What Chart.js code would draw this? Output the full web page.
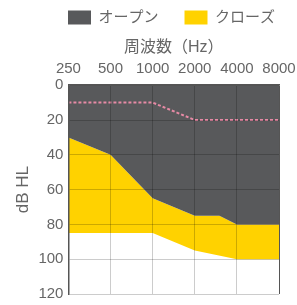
<!DOCTYPE html>
<html>
<head>
  <script src="https://cdn.jsdelivr.net/npm/chart.js"></script>
  <style>
    body { margin: 0; background: #fff; }
  </style>
</head>
<body>
  <canvas id="audioChart" width="297" height="305"></canvas>
  <script>
    const freqs = [250, 500, 1000, 2000, 4000, 8000];
    const openX = [250, 500, 1000, 2000, 3000, 4000, 8000];
    const openLimit = [30, 40, 65, 75, 75, 80, 80];
    const closeX = [250, 500, 1000, 2000, 4000, 8000];
    const closeLimit = [85, 85, 85, 95, 100, 100];
    const refX = [250, 500, 1000, 2000, 4000, 8000];
    const refLine = [10, 10, 10, 20, 20, 20];

    const pts = (xs, ys) => xs.map((x, i) => ({ x: x, y: ys[i] }));
    const family = "'Liberation Sans', 'Noto Sans CJK JP', sans-serif";
    const font = { family: family, size: 15 };
    const gridColor = last => ctx => ctx.index === last ? '#555' : 'rgba(0,0,0,0.2)';

    // nudge the legend so it sits over the plot like the original
    const legendShift = {
      id: 'legendShift',
      afterLayout(chart) {
        chart.legend.left += 22;
        chart.legend.right += 22;
      }
    };

    new Chart(document.getElementById('audioChart'), {
      type: 'line',
      data: {
        datasets: [
          {
            label: 'オープン',
            data: pts(openX, openLimit),
            borderWidth: 0,
            pointRadius: 0,
            backgroundColor: '#58595b',
            borderColor: '#58595b',
            fill: { value: 0 }
          },
          {
            label: 'クローズ',
            data: pts(closeX, closeLimit),
            borderWidth: 0,
            pointRadius: 0,
            backgroundColor: '#ffd200',
            borderColor: '#ffd200',
            fill: '-1'
          },
          {
            label: 'ref',
            data: pts(refX, refLine),
            order: -1,
            borderWidth: 2,
            borderDash: [3, 2],
            borderColor: '#e68aa5',
            pointRadius: 0,
            fill: false
          }
        ]
      },
      plugins: [legendShift],
      options: {
        responsive: false,
        animation: false,
        layout: { padding: { left: 13, right: 18, top: -16, bottom: 11 } },
        plugins: {
          legend: {
            position: 'top',
            align: 'end',
            labels: {
              boxWidth: 23,
              boxHeight: 14,
              padding: 26,
              color: '#666',
              font: font,
              filter: item => item.text !== 'ref'
            }
          },
          tooltip: { enabled: false }
        },
        scales: {
          x: {
            type: 'logarithmic',
            position: 'top',
            min: 250,
            max: 8000,
            afterBuildTicks: axis => { axis.ticks = freqs.map(v => ({ value: v })); },
            afterFit: s => { s.paddingLeft = 0; s.paddingRight = 0; },
            ticks: {
              color: '#666',
              font: font,
              padding: 7,
              maxRotation: 0,
              autoSkip: false,
              callback: v => String(v)
            },
            grid: { color: gridColor(5), drawTicks: false, z: 1 },
            border: { color: '#555', width: 1.5, z: 2 },
            title: { display: true, text: '周波数（Hz）', color: '#666', font: { family: family, size: 16 }, padding: { top: 3, bottom: -4 } }
          },
          y: {
            reverse: true,
            min: 0,
            max: 120,
            afterFit: s => { s.paddingTop = 0; s.paddingBottom = 0; },
            ticks: { stepSize: 20, color: '#666', font: font, padding: 5 },
            grid: { color: gridColor(6), drawTicks: false, z: 1 },
            border: { color: '#555', width: 1.5, z: 2 },
            title: { display: true, text: 'dB HL', color: '#666', font: { family: family, size: 17 }, padding: 0 }
          }
        }
      }
    });
  </script>
</body>
</html>
